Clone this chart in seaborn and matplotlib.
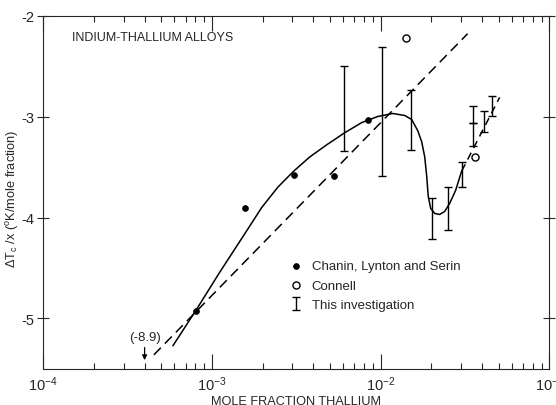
import numpy as np
import pandas as pd
import matplotlib
matplotlib.use("Agg")
import matplotlib.pyplot as plt
from matplotlib import font_manager
import seaborn as sns

# ---------------- data ----------------
# Chanin, Lynton and Serin (filled dots)
chanin_x = [8.05e-4, 1.57e-3, 3.06e-3, 5.28e-3, 8.40e-3]
chanin_y = [-4.93, -3.91, -3.58, -3.59, -3.03]

# Connell (open circles)
connell_x = [1.41e-2, 3.61e-2]
connell_y = [-2.22, -3.40]

# This investigation (error bars: low / high ends)
inv_x = [6.05e-3, 1.016e-2, 1.524e-2, 2.018e-2, 2.512e-2, 3.03e-2, 3.515e-2, 3.515e-2, 4.08e-2, 4.55e-2]
inv_hi = [-2.50, -2.31, -2.74, -3.81, -3.70, -3.45, -2.90, -3.06, -2.95, -2.80]
inv_lo = [-3.34, -3.59, -3.33, -4.21, -4.12, -3.70, -3.06, -3.29, -3.15, -2.99]

# Solid hand-drawn curve
curve_x = [5.886e-4, 8.05e-4, 1.117e-3, 1.570e-3, 1.979e-3, 2.462e-3, 3.062e-3, 3.809e-3,
           4.80e-3, 6.14e-3, 7.74e-3, 9.62e-3, 1.181e-2, 1.391e-2, 1.530e-2, 1.661e-2,
           1.753e-2, 1.827e-2, 1.877e-2, 1.916e-2, 1.983e-2, 2.094e-2, 2.241e-2, 2.399e-2,
           2.569e-2, 2.787e-2, 3.025e-2]
curve_y = [-5.27, -4.92, -4.54, -4.16, -3.90, -3.70, -3.54, -3.40,
           -3.28, -3.16, -3.06, -3.00, -2.97, -2.99, -3.03, -3.14,
           -3.25, -3.40, -3.59, -3.79, -3.91, -3.96, -3.97, -3.94,
           -3.86, -3.73, -3.54]

# Dashed continuation of the curve
cont_x = [3.025e-2, 5.08e-2]
cont_y = [-3.54, -2.81]

# Dashed straight line
line_x = [4.54e-4, 3.28e-2]
line_y = [-5.36, -2.18]

xticks = [1e-4, 1e-3, 1e-2, 1e-1]
xticklabels = [r"10$^{-4}$", r"10$^{-3}$", r"10$^{-2}$", r"10$^{-1}$"]
yticks = [-5, -4, -3, -2]
yticklabels = ["-5", "-4", "-3", "-2"]

title_text = "INDIUM-THALLIUM ALLOYS"
xlabel_text = "MOLE FRACTION THALLIUM"
ylabel_text = r"$\Delta$T$_\mathrm{c}$ /x ($^\mathrm{o}$K/mole fraction)"
legend_labels = ["Chanin, Lynton and Serin", "Connell", "This investigation"]
annot_text = "(-8.9)"
annot_x = 4e-4

# ---------------- style ----------------
sns.set_style("ticks")
names = {f.name for f in font_manager.fontManager.ttflist}
fam = "Liberation Sans Narrow" if "Liberation Sans Narrow" in names else "Liberation Sans"
plt.rcParams["font.family"] = [fam, "DejaVu Sans"]
plt.rcParams["mathtext.fontset"] = "custom"
plt.rcParams["mathtext.rm"] = fam
plt.rcParams["mathtext.it"] = fam
plt.rcParams["mathtext.bf"] = fam
plt.rcParams["axes.unicode_minus"] = False

fig = plt.figure(figsize=(5.56, 4.06), dpi=100)
ax = fig.add_axes([0.0773, 0.0887, 0.9107, 0.8706])

chanin_df = pd.DataFrame({"x": chanin_x, "y": chanin_y})
connell_df = pd.DataFrame({"x": connell_x, "y": connell_y})
curve_df = pd.DataFrame({"x": curve_x, "y": curve_y})

ax.set_xscale("log")
sns.lineplot(data=curve_df, x="x", y="y", ax=ax, color="black", lw=1.1, sort=False,
             estimator=None)
ax.plot(cont_x, cont_y, color="black", lw=1.1, dashes=(5, 3.5))
ax.plot(line_x, line_y, color="black", lw=1.1, dashes=(6.5, 3.8))

sns.scatterplot(data=chanin_df, x="x", y="y", ax=ax, marker="o", s=18,
                color="black", edgecolor="black", linewidth=0.5, zorder=5,
                label=legend_labels[0])
sns.scatterplot(data=connell_df, x="x", y="y", ax=ax, marker="o", s=26,
                facecolor="white", edgecolor="black", linewidth=1.0, zorder=5,
                label=legend_labels[1])

lo = np.array(inv_lo)
hi = np.array(inv_hi)
mid = (lo + hi) / 2
err = (hi - lo) / 2
ax.errorbar(inv_x, mid, yerr=err, fmt="none", ecolor="black", elinewidth=1.0,
            capsize=2.6, capthick=1.0, label=legend_labels[2], zorder=4)

ax.set_xlim(1e-4, 1e-1)
ax.set_ylim(-5.5, -2)
ax.set_xticks(xticks)
ax.set_xticklabels(xticklabels, fontsize=10.5)
ax.set_yticks(yticks)
ax.set_yticklabels(yticklabels, fontsize=10.5)
ax.set_xlabel(xlabel_text, fontsize=9.2, labelpad=1)
ax.set_ylabel(ylabel_text, fontsize=9.2)
ax.yaxis.set_label_coords(-0.044, 0.484)

ax.tick_params(axis="x", which="major", direction="in", length=11, width=0.8,
               top=True, pad=4)
ax.tick_params(axis="x", which="minor", direction="in", length=4, width=0.8, top=True)
ax.tick_params(axis="y", which="major", direction="inout", length=8, width=0.8,
               right=True, pad=2)
ax.minorticks_on()
ax.yaxis.set_minor_locator(matplotlib.ticker.NullLocator())
ax.xaxis.set_minor_locator(matplotlib.ticker.LogLocator(base=10, subs=np.arange(2, 10)))
ax.xaxis.set_minor_formatter(matplotlib.ticker.NullFormatter())
for s in ax.spines.values():
    s.set_linewidth(0.8)

ax.text(1.485e-4, -2.21, title_text, fontsize=9, ha="left", va="center")

ax.annotate("", xy=(annot_x, -5.44), xytext=(annot_x, -5.26),
            arrowprops=dict(arrowstyle="-|>", color="black", lw=0.9,
                            mutation_scale=7))
ax.text(annot_x, -5.18, annot_text, fontsize=9.5, ha="center", va="center")

leg = ax.legend(loc="upper left", bbox_to_anchor=(0.468, 0.335), frameon=False,
                fontsize=9.5, handlelength=1.0, handletextpad=0.7,
                labelspacing=0.55, borderpad=0.2)

fig.savefig("out.png", dpi=100)
